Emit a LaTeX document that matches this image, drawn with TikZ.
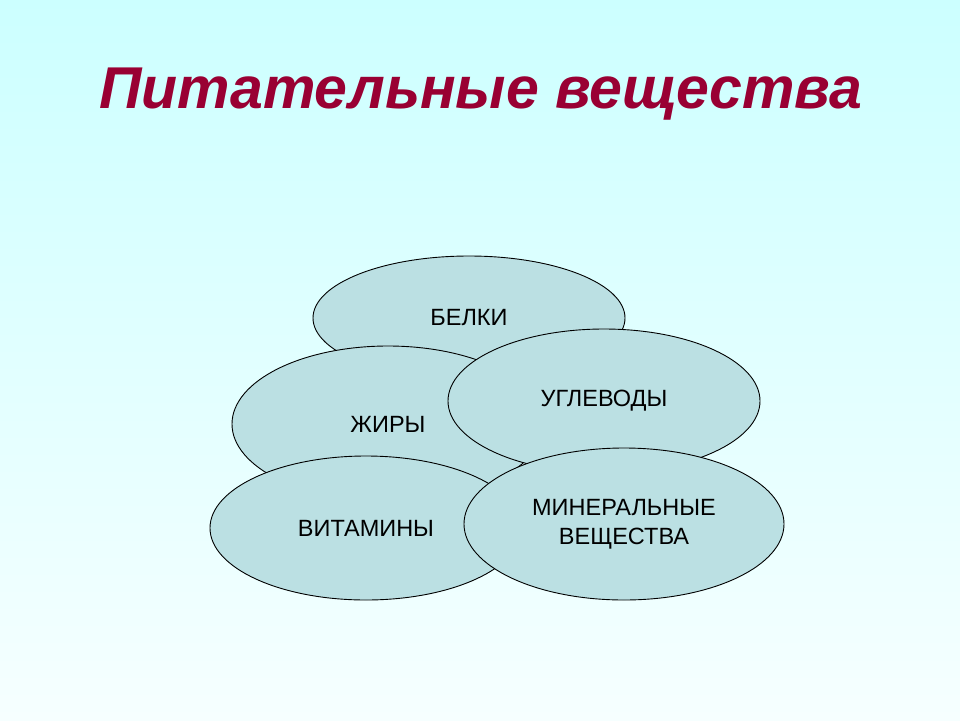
\documentclass[tikz,border=0pt]{standalone}
\usepackage{fontspec}
\setmainfont{Liberation Sans}
\usetikzlibrary{shapes.geometric}
\definecolor{titlered}{RGB}{153,0,51}
\definecolor{blobfill}{RGB}{187,224,227}
\definecolor{skytop}{RGB}{204,255,255}
\definecolor{skybottom}{RGB}{246,255,255}
\tikzstyle{blob}=[
        ellipse,
        draw=black,
        line width=0.9pt,
        fill=blobfill,
        inner sep=0pt,
        font=\fontsize{23.5}{29}\selectfont,
        align=center
]
\tikzstyle{heading}=[
        text=titlered,
        font=\fontsize{59}{64}\selectfont\bfseries\itshape
]
\begin{document}
\begin{tikzpicture}[x=1pt,y=-1pt]
                        \shade[top color=skytop, bottom color=skybottom] (0,0) rectangle (960,720);
                        \useasboundingbox (0,0) rectangle (960,720);

                        \node[heading] (title) at (481,94) {Питательные вещества};

                        % back to front
                        \node[blob, minimum width=312, minimum height=124] (belki) at (469,318) {БЕЛКИ};
                        \node[blob, minimum width=312, minimum height=156] (zhiry) at (388,424) {ЖИРЫ};
                        \node[blob, minimum width=312, minimum height=144] (uglevody) at (604,401) {УГЛЕВОДЫ};
                        \node[blob, minimum width=312, minimum height=144] (vitaminy) at (366,528) {ВИТАМИНЫ};
                        \node[blob, minimum width=320, minimum height=152] (mineraly) at (624,524) {МИНЕРАЛЬНЫЕ\\ВЕЩЕСТВА};
                    \end{tikzpicture}
\end{document}
